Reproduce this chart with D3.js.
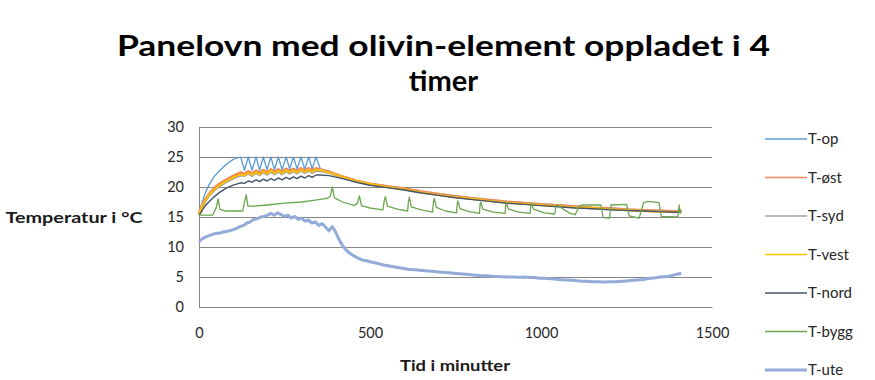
<!DOCTYPE html>
<html>
<head>
<meta charset="utf-8">
<script src="https://cdn.jsdelivr.net/npm/d3@7"></script>
<style>
  body { margin: 0; background: #fff; }
  svg { display: block; }
  text { font-family: Lato, "Open Sans", sans-serif; }
</style>
</head>
<body>
<svg id="chart" width="875" height="380"></svg>
<script>
// ---- Data -------------------------------------------------------------
const titleLines = ["Panelovn med olivin-element oppladet i 4", "timer"];
const yAxisTitle = "Temperatur i \u00B0C";
const xAxisTitle = "Tid i minutter";
const xTicks = [0, 500, 1000, 1500];
const yTicks = [0, 5, 10, 15, 20, 25, 30];

const seriesNames = ["T-op", "T-\u00F8st", "T-syd", "T-vest", "T-nord", "T-bygg", "T-ute"];

// Room sensors share one time base (minutes)
const clusterMinutes = [0, 5, 10, 20, 30, 45, 60, 80, 100, 122, 133, 144, 155, 167, 177, 188, 199, 210,
  221, 232, 243, 255, 265, 276, 287, 298, 309, 321, 331, 342, 355, 380, 420, 460, 500, 550, 600, 650,
  700, 750, 800, 850, 900, 950, 1000, 1050, 1100, 1150, 1200, 1250, 1300, 1350, 1390, 1400, 1405, 1410];

const tOp = [15.5, 16.5, 17.6, 19.2, 20.4, 21.8, 22.7, 23.8, 24.6, 25.0,
  22.8, 25.0, 22.8, 25.0, 22.8, 25.0, 22.9, 25.0, 22.9, 25.0, 22.9, 25.0, 23.0, 25.0, 23.0, 25.0, 23.0, 25.0, 23.0, 25.0,
  23.0, 22.6,
  21.8, 21.1, 20.6, 20.2, 19.8, 19.3, 18.9, 18.5, 18.2, 17.9, 17.6, 17.4, 17.2, 17.0, 16.8, 16.6, 16.5, 16.3, 16.2, 16.1, 16.0, 16.0, 16.3, 16.0];

const tOst = [15.5, 16.3, 17.0, 18.0, 18.8, 19.8, 20.5, 21.2, 21.8, 22.4,
  22.1, 22.6, 22.2, 22.7, 22.3, 22.8, 22.4, 22.9, 22.5, 22.9, 22.5, 23.0, 22.6, 23.0, 22.6, 23.1, 22.7, 23.1, 22.7, 23.1,
  22.9, 22.5,
  21.7, 21.0, 20.5, 20.1, 19.7, 19.2, 18.8, 18.4, 18.1, 17.8, 17.5, 17.3, 17.1, 16.9, 16.7, 16.5, 16.4, 16.2, 16.1, 16.0, 15.9, 15.9, 16.1, 15.9];

const tSyd = [15.4, 16.0, 16.7, 17.7, 18.5, 19.4, 20.1, 20.8, 21.4, 21.9,
  21.8, 22.2, 21.8, 22.3, 21.9, 22.4, 22.0, 22.5, 22.1, 22.5, 22.1, 22.6, 22.2, 22.6, 22.2, 22.7, 22.3, 22.7, 22.3, 22.7,
  22.6, 22.3,
  21.6, 20.9, 20.4, 20.0, 19.6, 19.1, 18.7, 18.3, 18.0, 17.7, 17.4, 17.2, 17.0, 16.8, 16.6, 16.4, 16.3, 16.1, 16.0, 15.9, 15.8, 15.8, 15.9, 15.8];

const tVest = [15.5, 16.2, 16.9, 17.9, 18.7, 19.6, 20.3, 21.0, 21.6, 22.1,
  21.9, 22.4, 22.0, 22.5, 22.1, 22.6, 22.2, 22.7, 22.3, 22.7, 22.3, 22.8, 22.4, 22.8, 22.4, 22.9, 22.5, 22.9, 22.5, 22.9,
  22.8, 22.4,
  21.7, 21.0, 20.5, 20.0, 19.6, 19.1, 18.7, 18.3, 18.0, 17.7, 17.4, 17.2, 17.0, 16.8, 16.6, 16.5, 16.3, 16.2, 16.0, 15.9, 15.8, 15.8, 16.0, 15.8];

const tNord = [15.3, 15.7, 16.2, 17.0, 17.6, 18.4, 19.1, 19.8, 20.3, 20.7,
  20.6, 21.0, 20.8, 21.2, 20.9, 21.3, 21.0, 21.4, 21.1, 21.5, 21.2, 21.6, 21.3, 21.7, 21.4, 21.8, 21.5, 21.9, 21.6, 22.0,
  22.0, 21.9,
  21.4, 20.8, 20.3, 19.9, 19.5, 19.0, 18.6, 18.2, 17.9, 17.6, 17.3, 17.1, 16.9, 16.7, 16.5, 16.4, 16.2, 16.1, 16.0, 15.9, 15.8, 15.8, 15.9, 15.8];

// Building-mass sensor: logged as [minute, temperature]
const tBygg = [[0, 15.3], [40, 15.3], [50, 16.5], [56, 18.0], [61, 16.3], [75, 16.0], [128, 16.0], [133, 17.5],
  [138, 18.7], [143, 16.8], [160, 16.8], [200, 17.0], [250, 17.3], [300, 17.5], [340, 17.8], [375, 18.1],
  [384, 18.5], [390, 20.0], [396, 18.2], [420, 17.5], [455, 16.9], [463, 17.3], [469, 18.5], [475, 16.9],
  [500, 16.5], [538, 16.2], [541, 17.5], [545, 18.4], [551, 16.8], [580, 16.3], [610, 16.0], [612, 17.4],
  [615, 18.3], [621, 16.7], [650, 16.2], [683, 15.8], [685, 17.3], [688, 18.1], [694, 16.6], [720, 16.0],
  [753, 15.7], [755, 17.2], [757, 17.7], [763, 16.4], [790, 15.9], [820, 15.6], [822, 17.1], [824, 17.5],
  [830, 16.3], [860, 15.8], [895, 15.6], [897, 17.0], [899, 17.3], [905, 16.3], [935, 15.8], [968, 15.6],
  [970, 16.9], [972, 17.2], [978, 16.3], [1010, 15.7], [1040, 15.5], [1044, 16.8], [1048, 17.0], [1060, 16.5],
  [1085, 15.6], [1100, 15.4], [1112, 16.8], [1120, 17.0], [1175, 17.0], [1182, 14.9], [1200, 14.8], [1205, 17.0],
  [1250, 17.1], [1258, 15.2], [1280, 14.9], [1287, 14.8], [1300, 17.4], [1312, 17.6], [1345, 17.4], [1352, 15.1],
  [1400, 15.0], [1404, 17.0], [1407, 15.6], [1410, 16.0]];

// Outdoor temperature, one reading every 10 minutes from minute 0
const uteStepMinutes = 10;
const tUte = [10.9, 11.4, 11.7, 11.9, 12.1, 12.3, 12.3, 12.5, 12.6, 12.7, 12.9,
  13.1, 13.4, 13.6, 14.0, 14.2, 14.6, 14.7, 15.0, 15.1, 15.3,
  15.6, 15.3, 15.7, 15.4, 15.1, 15.3, 14.8, 15.1, 14.6, 14.8,
  14.3, 14.5, 14.0, 14.2, 13.6, 13.9, 13.3, 12.7, 13.4, 12.4,
  11.2, 10.2, 9.5, 9.0, 8.6, 8.3, 8.0, 7.8, 7.7, 7.55,
  7.4, 7.3, 7.15, 7.0, 6.9, 6.8, 6.7, 6.6, 6.5, 6.4,
  6.3, 6.25, 6.2, 6.15, 6.1, 6.05, 6.0, 5.95, 5.9, 5.85,
  5.8, 5.75, 5.7, 5.65, 5.6, 5.55, 5.5, 5.45, 5.4, 5.35,
  5.3, 5.25, 5.2, 5.2, 5.15, 5.1, 5.1, 5.05, 5.05, 5.0,
  5.0, 5.0, 4.95, 4.95, 5.0, 4.95, 4.9, 4.9, 4.85, 4.8,
  4.8, 4.75, 4.7, 4.65, 4.6, 4.55, 4.5, 4.5, 4.45, 4.4,
  4.35, 4.3, 4.3, 4.25, 4.2, 4.2, 4.2, 4.15, 4.15, 4.2,
  4.2, 4.2, 4.25, 4.3, 4.35, 4.4, 4.45, 4.5, 4.55, 4.6,
  4.7, 4.8, 4.85, 4.9, 5.0, 5.05, 5.1, 5.2, 5.35, 5.5, 5.6];

// ---- Series table -------------------------------------------------------
const colors = ["#5b9bd5", "#ef8a58", "#a5a5a5", "#ffc000", "#44546a", "#6aa84f", "#92abd8"];
const widths = [1.3, 3, 1.8, 1.8, 1.4, 1.3, 3];

const series = [
  clusterMinutes.map((m, i) => [m, tOp[i]]),
  clusterMinutes.map((m, i) => [m, tOst[i]]),
  clusterMinutes.map((m, i) => [m, tSyd[i]]),
  clusterMinutes.map((m, i) => [m, tVest[i]]),
  clusterMinutes.map((m, i) => [m, tNord[i]]),
  tBygg,
  tUte.map((v, i) => [i * uteStepMinutes, v])
].map((pts, i) => ({ name: seriesNames[i], color: colors[i], width: widths[i], pts }));

// ---- Layout ---------------------------------------------------------------
const svg = d3.select("#chart");
const plot = { left: 199, right: 712, top: 127, bottom: 307 };

const x = d3.scaleLinear().domain([0, 1500]).range([plot.left, plot.right]);
const y = d3.scaleLinear().domain([0, 30]).range([plot.bottom, plot.top]);

// Title (two lines)
svg.append("text")
  .attr("x", 443.5).attr("y", 56)
  .attr("text-anchor", "middle")
  .attr("font-size", 29).attr("font-weight", 700).attr("fill", "#000")
  .attr("textLength", 653).attr("lengthAdjust", "spacingAndGlyphs")
  .text(titleLines[0]);
svg.append("text")
  .attr("x", 443.5).attr("y", 91)
  .attr("text-anchor", "middle")
  .attr("font-size", 29).attr("font-weight", 700).attr("fill", "#000")
  .text(titleLines[1]);

// Y axis with horizontal gridlines
const yAxis = svg.append("g")
  .attr("transform", `translate(${plot.left},0)`)
  .call(d3.axisLeft(y).tickValues(yTicks).tickSize(-(plot.right - plot.left)).tickPadding(15));
yAxis.select(".domain").attr("stroke", "#868686");
yAxis.selectAll(".tick line").attr("stroke", "#868686").attr("stroke-width", 1);
yAxis.selectAll(".tick text")
  .attr("font-size", 14.5).attr("fill", "#262626")
  .attr("font-family", "Lato, sans-serif");

// X axis
const xAxis = svg.append("g")
  .attr("transform", `translate(0,${plot.bottom})`)
  .call(d3.axisBottom(x).tickValues(xTicks).tickFormat(d3.format("d")).tickSize(0).tickPadding(21));
xAxis.select(".domain").attr("stroke", "#868686");
xAxis.selectAll(".tick text")
  .attr("font-size", 14.5).attr("fill", "#262626")
  .attr("font-family", "Lato, sans-serif");

// Axis titles
svg.append("text")
  .attr("x", 74).attr("y", 223)
  .attr("text-anchor", "middle")
  .attr("font-size", 14.5).attr("font-weight", 700).attr("fill", "#1a1a1a")
  .attr("textLength", 137).attr("lengthAdjust", "spacingAndGlyphs")
  .text(yAxisTitle);
svg.append("text")
  .attr("x", 455).attr("y", 371)
  .attr("text-anchor", "middle")
  .attr("font-size", 14.5).attr("font-weight", 700).attr("fill", "#1a1a1a")
  .attr("textLength", 110).attr("lengthAdjust", "spacingAndGlyphs")
  .text(xAxisTitle);

// Series lines
const line = d3.line().x(d => x(d[0])).y(d => y(d[1]));
svg.append("g")
  .selectAll("path")
  .data(series)
  .join("path")
  .attr("d", d => line(d.pts))
  .attr("fill", "none")
  .attr("stroke", d => d.color)
  .attr("stroke-width", d => d.width)
  .attr("stroke-linejoin", "round");

// Legend
const legendY = d3.scalePoint().domain(seriesNames).range([139, 370]);
const legendItem = svg.append("g")
  .selectAll("g")
  .data(series)
  .join("g")
  .attr("transform", d => `translate(0,${legendY(d.name)})`);
legendItem.append("line")
  .attr("x1", 765).attr("x2", 807)
  .attr("stroke", d => d.color)
  .attr("stroke-width", d => d.width === 3 && d.name === seriesNames[6] ? 3 : 1.6);
legendItem.append("text")
  .attr("x", 808).attr("dy", "0.35em")
  .attr("font-size", 15).attr("fill", "#262626")
  .text(d => d.name);
</script>
</body>
</html>
